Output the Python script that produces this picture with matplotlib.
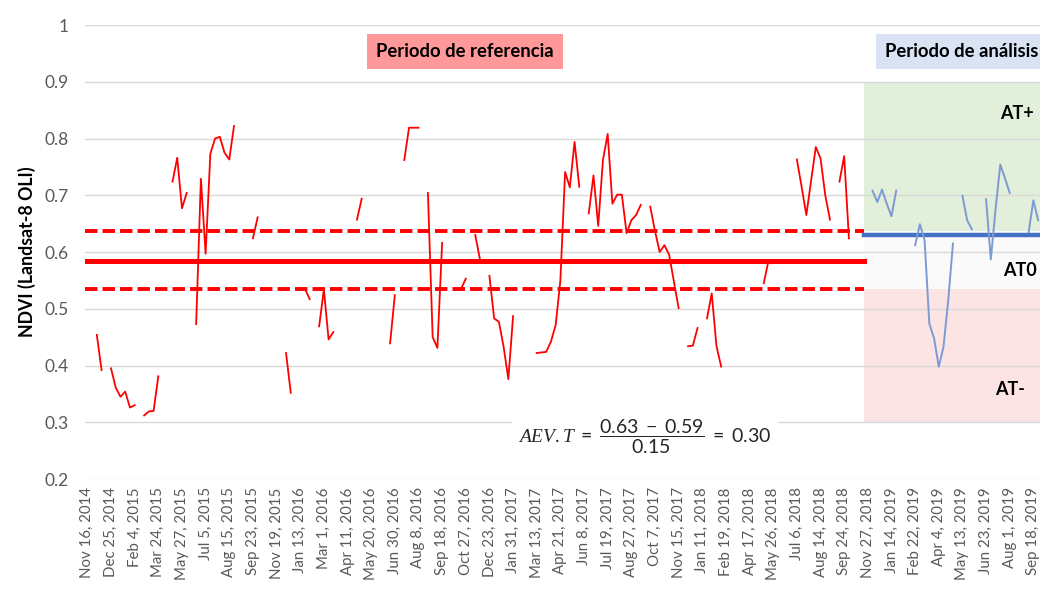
import numpy as np
import matplotlib.pyplot as plt

plt.rcParams['font.family'] = ['Lato', 'DejaVu Sans']
plt.rcParams['mathtext.fontset'] = 'custom'
plt.rcParams['mathtext.rm'] = 'Lato'
plt.rcParams['mathtext.it'] = 'Liberation Serif:italic'

# acquisition labels, one every 5 categories
tick_dates = [
    "Nov 16, 2014", "Dec 25, 2014", "Feb 4, 2015", "Mar 24, 2015", "May 27, 2015",
    "Jul 5, 2015", "Aug 15, 2015", "Sep 23, 2015", "Nov 19, 2015", "Jan 13, 2016",
    "Mar 1, 2016", "Apr 11, 2016", "May 20, 2016", "Jun 30, 2016", "Aug 8, 2016",
    "Sep 18, 2016", "Oct 27, 2016", "Dec 23, 2016", "Jan 31, 2017", "Mar 13, 2017",
    "Apr 21, 2017", "Jun 8, 2017", "Jul 19, 2017", "Aug 27, 2017", "Oct 7, 2017",
    "Nov 15, 2017", "Jan 11, 2018", "Feb 19, 2018", "Apr 17, 2018", "May 26, 2018",
    "Jul 6, 2018", "Aug 14, 2018", "Sep 24, 2018", "Nov 27, 2018", "Jan 14, 2019",
    "Feb 22, 2019", "Apr 4, 2019", "May 13, 2019", "Jun 23, 2019", "Aug 1, 2019",
    "Sep 18, 2019",
]
label_step = 5
n_cat = 202

# NDVI runs (first category, values); gaps are cloudy scenes
ref_segments = [
    (2, [0.454, 0.392]),
    (5, [0.395, 0.361, 0.345, 0.354, 0.326, 0.330]),
    (12, [0.312, 0.319, 0.320, 0.381]),
    (18, [0.724, 0.766, 0.677, 0.704]),
    (23, [0.473, 0.729, 0.597, 0.773, 0.800, 0.803, 0.775, 0.763, 0.822]),
    (35, [0.624, 0.661]),
    (42, [0.422, 0.352]),
    (46, [0.535, 0.517]),
    (49, [0.469, 0.534, 0.446, 0.459]),
    (57, [0.657, 0.694]),
    (64, [0.439, 0.524]),
    (67, [0.762, 0.819, 0.819, 0.819]),
    (72, [0.704, 0.450, 0.431, 0.616]),
    (79, [0.535, 0.553]),
    (82, [0.630, 0.587]),
    (85, [0.558, 0.483, 0.477, 0.433, 0.376, 0.487]),
    (95, [0.422, 0.423, 0.424, 0.442, 0.471, 0.550, 0.741, 0.714, 0.794, 0.715]),
    (106, [0.668, 0.735, 0.646, 0.762, 0.808, 0.685, 0.701, 0.701, 0.633, 0.656, 0.665, 0.683]),
    (119, [0.680, 0.637, 0.600, 0.612, 0.595, 0.548, 0.501]),
    (127, [0.434, 0.435, 0.466]),
    (131, [0.483, 0.527, 0.434, 0.398]),
    (143, [0.545, 0.585]),
    (150, [0.763, 0.715, 0.665, 0.725, 0.785, 0.765, 0.700, 0.657]),
    (159, [0.724, 0.769, 0.624]),
]
ana_segments = [
    (166, [0.708, 0.688, 0.710, 0.685, 0.663, 0.708]),
    (175, [0.612, 0.649, 0.621, 0.474, 0.448, 0.398, 0.433, 0.515, 0.615]),
    (185, [0.699, 0.656, 0.640]),
    (190, [0.693, 0.587, 0.675, 0.754, 0.730, 0.704]),
    (199, [0.635, 0.691, 0.656]),
]

ref_mean = 0.584
ref_upper = 0.637
ref_lower = 0.535
ana_mean = 0.630
band_top = 0.90
band_bottom = 0.30
split = 164.2


def build_series(segments):
    y = np.full(n_cat, np.nan)
    for start, vals in segments:
        y[start:start + len(vals)] = vals
    return y


x = np.arange(n_cat)
ndvi_ref = build_series(ref_segments)
ndvi_ana = build_series(ana_segments)

fig = plt.figure(figsize=(10.4, 5.9), dpi=100)
ax = fig.add_axes([85 / 1040, 1 - 479 / 590, 1 - 85 / 1040, (479 - 25) / 590])
x_end = 201.4
ax.set_xlim(-0.5, x_end)
ax.set_ylim(0.2, 1.0)

# threshold bands of the analysis period
ax.fill_between([split, x_end], ref_upper, band_top, color='#E2EFDA', lw=0, zorder=0)
ax.fill_between([split, x_end], ref_lower, ref_upper, color='#FAFAFA', lw=0, zorder=0)
ax.fill_between([split, x_end], band_bottom, ref_lower, color='#FCE4E4', lw=0, zorder=0)

ax.set_yticks(np.arange(0.2, 1.01, 0.1))
ax.set_yticklabels(['0.2', '0.3', '0.4', '0.5', '0.6', '0.7', '0.8', '0.9', '1'])
ax.grid(axis='y', color='#D9D9D9', lw=1.0, zorder=0.5)
for s in ax.spines.values():
    s.set_visible(False)

ax.set_xticks(np.arange(0, len(tick_dates) * label_step, label_step))
ax.set_xticklabels(tick_dates, rotation=90)
ax.tick_params(axis='both', length=0, colors='#595959')
ax.tick_params(axis='y', labelsize=12.5, pad=12)
ax.tick_params(axis='x', labelsize=10.8, pad=6)
ax.set_ylabel('NDVI (Landsat-8 OLI)', fontsize=12.8, fontweight='bold', labelpad=6)

ax.plot([-0.5, split], [ref_mean, ref_mean], color='#FF0000', lw=3.6, zorder=2)
ax.plot([-0.5, split], [ref_upper, ref_upper], color='#FF0000', lw=2.8,
        ls=(0, (3.2, 1.3)), zorder=2)
ax.plot([-0.5, split], [ref_lower, ref_lower], color='#FF0000', lw=2.8,
        ls=(0, (3.2, 1.3)), zorder=2)
ax.plot([split, x_end], [ana_mean, ana_mean], color='#4472C4', lw=3.2, zorder=2)

ax.plot(x, ndvi_ref, color='#FF0000', lw=1.3, zorder=3)
ax.plot(x, ndvi_ana, color='#7C9BD2', lw=1.4, zorder=3)

ax.text(79.8, 0.953, 'Periodo de referencia', ha='center', va='center',
        fontsize=13.3, fontweight='bold',
        bbox=dict(boxstyle='square,pad=0.5', fc='#FF9999', ec='none'))
ax.text(168.6, 0.953, 'Periodo de análisis', ha='left', va='center',
        fontsize=13.3, fontweight='bold', clip_on=False,
        bbox=dict(boxstyle='square,pad=0.5', fc='#DAE3F3', ec='none'))

ax.text(196.5, 0.844, 'AT+', ha='center', va='center', fontsize=13, fontweight='bold')
ax.text(197.2, 0.568, 'AT0', ha='center', va='center', fontsize=13, fontweight='bold')
ax.text(195.1, 0.357, 'AT-', ha='center', va='center', fontsize=13, fontweight='bold')

ax.text(117.9, 0.274, r'$AEV.T\ =\ \dfrac{0.63\ -\ 0.59}{0.15}\ =\ 0.30$',
        ha='center', va='center', fontsize=14, color='#262626', zorder=4,
        bbox=dict(boxstyle='square,pad=0.3', fc='white', ec='none'))

fig.savefig('out.png', dpi=100)
